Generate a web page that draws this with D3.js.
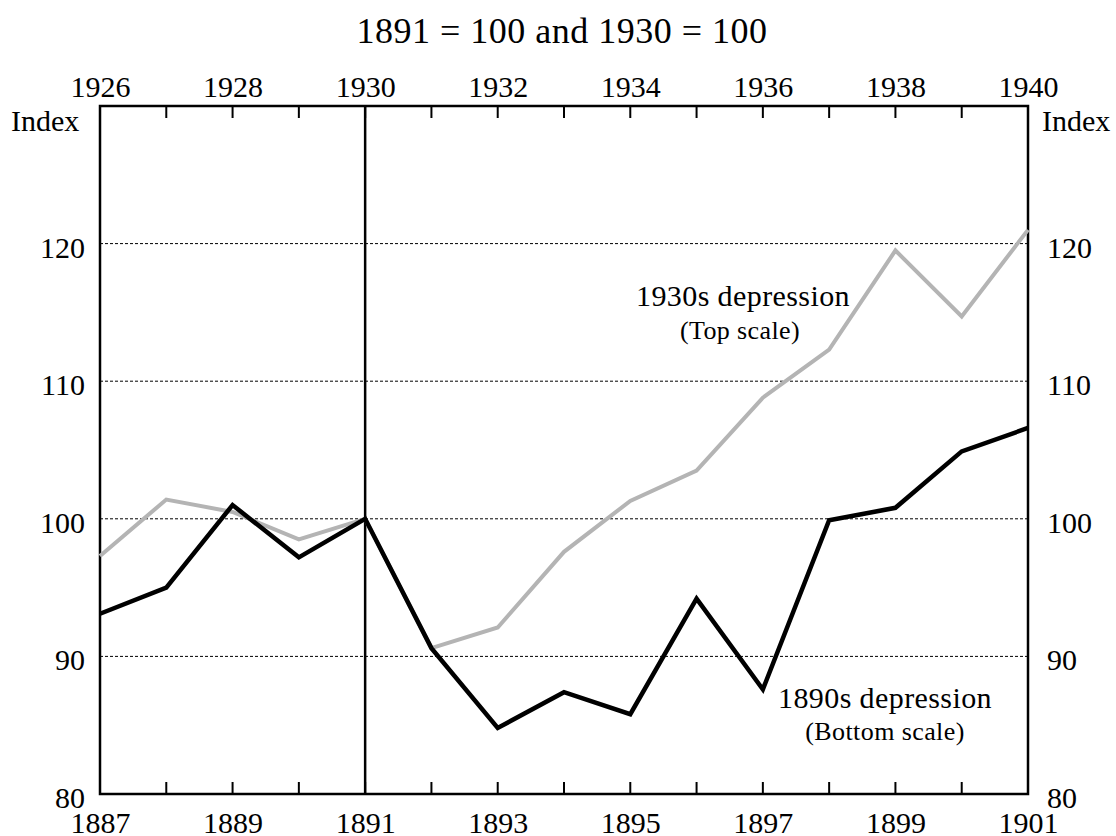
<!DOCTYPE html>
<html>
<head>
<meta charset="utf-8">
<script src="https://cdn.jsdelivr.net/npm/d3@7"></script>
<style>
  body { margin: 0; background: #fff; }
  text { font-family: "Liberation Serif", "Times New Roman", serif; fill: #000; }
</style>
</head>
<body>
<svg width="1116" height="836"></svg>
<script>
// bottom scale: 1890s, top scale: 1930s
let yearsBottom = [1887, 1888, 1889, 1890, 1891, 1892, 1893, 1894, 1895, 1896, 1897, 1898, 1899, 1900, 1901];
let values1890s = [93.1, 95.0, 101.0, 97.2, 100.0, 90.6, 84.8, 87.4, 85.8, 94.2, 87.6, 99.9, 100.8, 104.9, 106.6];

let yearsTop = [1926, 1927, 1928, 1929, 1930, 1931, 1932, 1933, 1934, 1935, 1936, 1937, 1938, 1939, 1940];
let values1930s = [97.3, 101.4, 100.5, 98.5, 100.0, 90.6, 92.1, 97.6, 101.3, 103.5, 108.8, 112.3, 119.5, 114.7, 121.0];

let yTicks = [80, 90, 100, 110, 120];
let gridTicks = [90, 100, 110, 120];

let plotLeft = 100, plotRight = 1028, plotTop = 106, plotBottom = 794;

let svg = d3.select("svg");

let xBottom = d3.scaleLinear().domain([1887, 1901]).range([plotLeft, plotRight]);
let xTop = d3.scaleLinear().domain([1926, 1940]).range([plotLeft, plotRight]);
let y = d3.scaleLinear().domain([80, 130]).range([plotBottom, plotTop]);

// title
svg.append("text")
  .attr("x", 562)
  .attr("y", 43)
  .attr("text-anchor", "middle")
  .style("font-size", "36px")
  .style("letter-spacing", "0.5px")
  .text("1891 = 100 and 1930 = 100");

// gridlines
svg.append("g")
  .selectAll("line")
  .data(gridTicks)
  .enter()
  .append("line")
  .attr("x1", plotLeft)
  .attr("x2", plotRight)
  .attr("y1", d => y(d))
  .attr("y2", d => y(d))
  .attr("stroke", "#000")
  .attr("stroke-width", 1)
  .attr("stroke-dasharray", "3,2");

// y labels, both sides
let yLab = svg.append("g");
yLab.selectAll(".yl")
  .data(yTicks)
  .enter()
  .append("text")
  .attr("class", "yl")
  .attr("x", plotLeft - 15)
  .attr("y", d => y(d) + 14)
  .attr("text-anchor", "end")
  .style("font-size", "30px")
  .text(d => d);
yLab.selectAll(".yr")
  .data(yTicks)
  .enter()
  .append("text")
  .attr("class", "yr")
  .attr("x", plotRight + 19)
  .attr("y", d => y(d) + 14)
  .attr("text-anchor", "start")
  .style("font-size", "30px")
  .text(d => d);

svg.append("text").attr("x", 11).attr("y", 131).style("font-size", "30px").text("Index");
svg.append("text").attr("x", 1042).attr("y", 131).style("font-size", "30px").text("Index");

// x axis labels (every other year)
let bottomAxis = d3.axisBottom(xBottom)
  .tickValues(yearsBottom.filter(d => (d - 1887) % 2 === 0))
  .tickSize(0)
  .tickFormat(d3.format("d"));
let topAxis = d3.axisTop(xTop)
  .tickValues(yearsTop.filter(d => (d - 1926) % 2 === 0))
  .tickSize(0)
  .tickFormat(d3.format("d"));

let gb = svg.append("g").attr("transform", "translate(0," + plotBottom + ")").call(bottomAxis);
let gt = svg.append("g").attr("transform", "translate(0," + plotTop + ")").call(topAxis);
[gb, gt].forEach(g => {
  g.select(".domain").remove();
  g.selectAll(".tick line").remove();
  g.selectAll(".tick text").style("font-size", "30px").attr("font-family", null).attr("fill", "#000");
});
gb.selectAll(".tick text").attr("dy", null).attr("y", 39);
gt.selectAll(".tick text").attr("dy", null).attr("y", -9);

// inward year ticks
svg.append("g")
  .selectAll("line")
  .data(yearsBottom.slice(1, -1))
  .enter()
  .append("line")
  .attr("x1", d => xBottom(d))
  .attr("x2", d => xBottom(d))
  .attr("y1", plotBottom)
  .attr("y2", plotBottom - 12)
  .attr("stroke", "#000")
  .attr("stroke-width", 2);
svg.append("g")
  .selectAll("line")
  .data(yearsTop.slice(1, -1))
  .enter()
  .append("line")
  .attr("x1", d => xTop(d))
  .attr("x2", d => xTop(d))
  .attr("y1", plotTop)
  .attr("y2", plotTop + 12)
  .attr("stroke", "#000")
  .attr("stroke-width", 2);

// frame
svg.append("rect")
  .attr("x", plotLeft)
  .attr("y", plotTop)
  .attr("width", plotRight - plotLeft)
  .attr("height", plotBottom - plotTop)
  .attr("fill", "none")
  .attr("stroke", "#000")
  .attr("stroke-width", 2.5);

// base-year line
svg.append("line")
  .attr("x1", xBottom(1891))
  .attr("x2", xBottom(1891))
  .attr("y1", plotTop)
  .attr("y2", plotBottom)
  .attr("stroke", "#000")
  .attr("stroke-width", 2.5);

// series
let line1930 = d3.line()
  .x((d, i) => xTop(yearsTop[i]))
  .y(d => y(d));
let line1890 = d3.line()
  .x((d, i) => xBottom(yearsBottom[i]))
  .y(d => y(d));

svg.append("path")
  .datum(values1930s)
  .attr("d", line1930)
  .attr("fill", "none")
  .attr("stroke", "#b4b4b4")
  .attr("stroke-width", 4);

svg.append("path")
  .datum(values1890s)
  .attr("d", line1890)
  .attr("fill", "none")
  .attr("stroke", "#000")
  .attr("stroke-width", 4.5);

// annotations
function note(x, yy, size, txt) {
  svg.append("text").attr("x", x).attr("y", yy).attr("text-anchor", "middle")
    .style("font-size", size + "px").style("letter-spacing", "0.4px").text(txt);
}
note(743, 306, 30, "1930s depression");
note(740, 339, 26, "(Top scale)");
note(885, 708, 30, "1890s depression");
note(885, 740, 26, "(Bottom scale)");
</script>
</body>
</html>
